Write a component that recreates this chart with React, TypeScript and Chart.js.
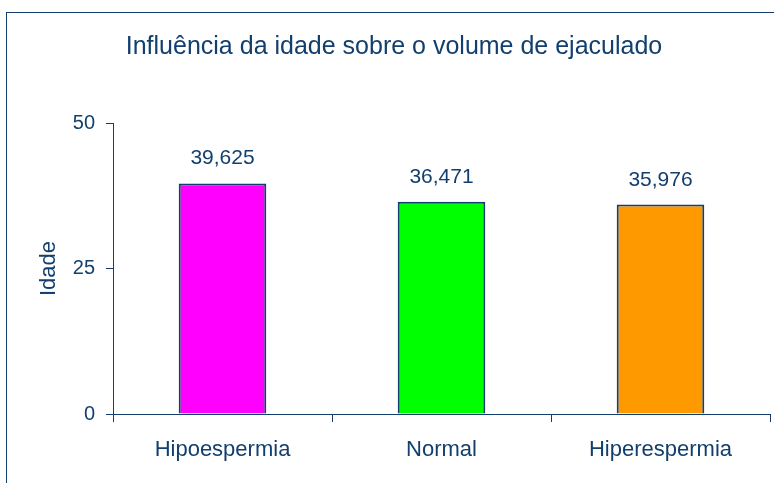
import React, { useEffect, useRef } from "react";
import { Chart, registerables } from "chart.js";

Chart.register(...registerables);

const categories = ["Hipoespermia", "Normal", "Hiperespermia"];
const ageValues = [39.625, 36.471, 35.976];
const barColors = ["#ff00ff", "#00ff00", "#ff9900"];
const yTicks = [0, 25, 50];
const chartTitle = "Influência da idade sobre o volume de ejaculado";
const yAxisTitle = "Idade";

const NAVY = "#123f6e";
const FONT = "'Liberation Sans', Arial, sans-serif";

const framePlugin = {
  id: "frame",
  beforeDraw(chart: any) {
    const ctx = chart.ctx;
    ctx.save();
    ctx.fillStyle = "#ffffff";
    ctx.fillRect(0, 0, chart.width, chart.height);
    ctx.strokeStyle = NAVY;
    ctx.lineWidth = 1;
    ctx.strokeRect(6.5, 12.5, chart.width + 20, chart.height + 20);
    ctx.restore();
  },
};

const valueLabels = {
  id: "valueLabels",
  afterDatasetsDraw(chart: any) {
    const ctx = chart.ctx;
    const meta = chart.getDatasetMeta(0);
    ctx.save();
    ctx.fillStyle = NAVY;
    ctx.font = `21px ${FONT}`;
    ctx.textAlign = "center";
    ctx.textBaseline = "alphabetic";
    meta.data.forEach((el: any, i: number) => {
      const v = chart.data.datasets[0].data[i] as number;
      ctx.fillText(v.toFixed(3).replace(".", ","), el.x, el.y - 19);
    });
    ctx.restore();
  },
};

export default function App() {
  const ref = useRef<HTMLCanvasElement>(null);
  useEffect(() => {
    document.body.style.margin = "0";
    const chart = new Chart(ref.current!, {
      type: "bar",
      data: {
        labels: categories,
        datasets: [
          {
            data: ageValues,
            backgroundColor: barColors,
            borderColor: NAVY,
            borderWidth: 2,
            categoryPercentage: 1,
            barPercentage: 0.4,
          },
        ],
      },
      options: {
        animation: false,
        responsive: false,
        layout: { padding: { left: 18, right: 4, top: 0, bottom: 0 } },
        plugins: {
          legend: { display: false },
          tooltip: { enabled: false },
          title: {
            display: true,
            text: chartTitle,
            color: NAVY,
            font: { family: FONT, size: 25, weight: "normal" },
            padding: { top: 32, bottom: 61 },
          },
        },
        scales: {
          x: {
            grid: {
              offset: true,
              drawOnChartArea: false,
              drawTicks: true,
              tickLength: 8,
              color: NAVY,
            },
            border: { display: true, color: NAVY, width: 1 },
            ticks: { color: NAVY, font: { family: FONT, size: 22 }, padding: 15 },
            afterFit(scale: any) {
              scale.height = 69;
            },
          },
          y: {
            min: 0,
            max: 50,
            afterBuildTicks(scale: any) {
              scale.ticks = yTicks.map((v) => ({ value: v }));
            },
            grid: {
              drawOnChartArea: false,
              drawTicks: true,
              tickLength: 7,
              color: NAVY,
            },
            border: { display: true, color: NAVY, width: 1 },
            ticks: { color: NAVY, font: { family: FONT, size: 20 }, padding: 11 },
            title: {
              display: true,
              text: yAxisTitle,
              color: NAVY,
              font: { family: FONT, size: 22 },
              padding: { top: 18, bottom: 0 },
            },
            afterFit(scale: any) {
              scale.width = 95;
            },
          },
        },
      },
      plugins: [framePlugin, valueLabels],
    });
    return () => chart.destroy();
  }, []);
  return (
    <div style={{ width: 774, height: 483 }}>
      <canvas ref={ref} width={774} height={483} />
    </div>
  );
}
